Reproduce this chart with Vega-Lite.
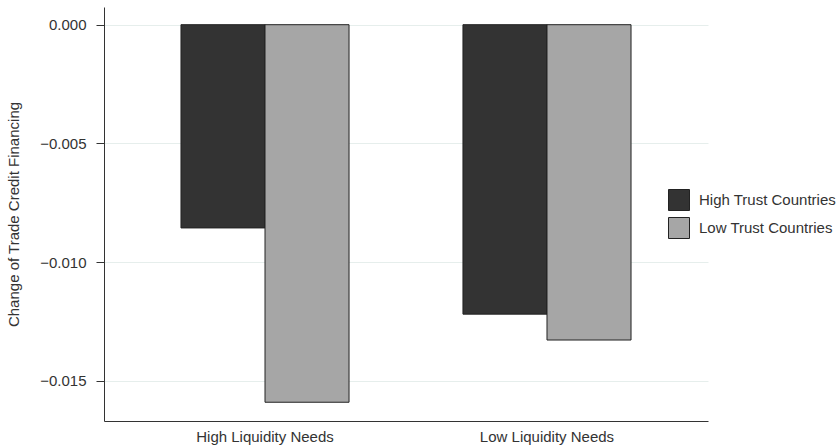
{
  "$schema": "https://vega.github.io/schema/vega-lite/v6.json",
  "width": 604,
  "height": 414,
  "autosize": {"type": "none"},
  "padding": {"left": 104, "top": 7, "right": 131, "bottom": 25},
  "background": "white",
  "config": {
    "font": "Liberation Sans",
    "view": {"stroke": null},
    "axis": {"labelFont": "Liberation Sans", "titleFont": "Liberation Sans"},
    "legend": {"labelFont": "Liberation Sans"}
  },
  "data": {
    "values": [
      {"need": "High Liquidity Needs", "group": "High Trust Countries", "value": -0.00856},
      {"need": "High Liquidity Needs", "group": "Low Trust Countries", "value": -0.0159},
      {"need": "Low Liquidity Needs", "group": "High Trust Countries", "value": -0.01219},
      {"need": "Low Liquidity Needs", "group": "Low Trust Countries", "value": -0.01328}
    ]
  },
  "mark": {"type": "bar", "stroke": "#222222", "strokeWidth": 1},
  "encoding": {
    "x": {
      "field": "need",
      "type": "nominal",
      "scale": {"paddingInner": 0.404, "paddingOuter": 0.273},
      "axis": {
        "title": null,
        "labelAngle": 0,
        "ticks": false,
        "domainColor": "#333333",
        "labelColor": "#333333",
        "labelFontSize": 15,
        "labelPadding": 8,
        "grid": false
      }
    },
    "xOffset": {
      "field": "group",
      "type": "nominal",
      "scale": {"paddingInner": 0, "paddingOuter": 0}
    },
    "y": {
      "field": "value",
      "type": "quantitative",
      "scale": {"domain": [-0.01669, 0.000745], "nice": false, "zero": false},
      "axis": {
        "title": "Change of Trade Credit Financing",
        "titleFontSize": 15,
        "titleFontWeight": "normal",
        "titleColor": "#333333",
        "titleX": -83,
        "titleY": 207,
        "titleAngle": -90,
        "titleBaseline": "bottom",
        "titleAlign": "center",
        "values": [0, -0.005, -0.01, -0.015],
        "labelExpr": "datum.value < 0 ? '−' + format(-datum.value, '.3f') : format(datum.value, '.3f')",
        "labelFontSize": 15,
        "labelColor": "#333333",
        "labelPadding": 10,
        "tickSize": 8,
        "tickColor": "#333333",
        "domainColor": "#333333",
        "gridColor": "#e6eeec",
        "grid": true
      }
    },
    "fill": {
      "field": "group",
      "type": "nominal",
      "scale": {"domain": ["High Trust Countries", "Low Trust Countries"], "range": ["#333333", "#a6a6a6"]},
      "legend": {
        "title": null,
        "orient": "none",
        "legendX": 564,
        "legendY": 182,
        "symbolType": "square",
        "symbolSize": 441,
        "symbolStrokeColor": "#222222",
        "symbolStrokeWidth": 1,
        "labelFontSize": 15,
        "labelColor": "#333333",
        "labelOffset": 9,
        "rowPadding": 2,
        "labelLimit": 300
      }
    }
  }
}
